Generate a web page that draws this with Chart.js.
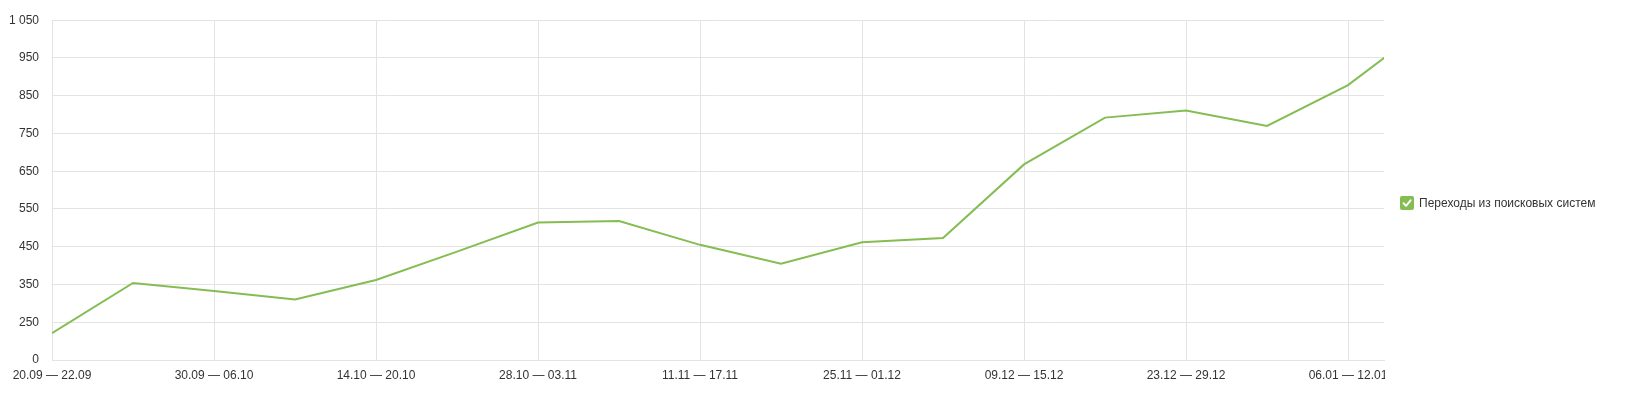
<!DOCTYPE html>
<html>
<head>
<meta charset="utf-8">
<script src="https://cdn.jsdelivr.net/npm/chart.js@4.4.1/dist/chart.umd.min.js"></script>
<style>
  html, body { margin: 0; padding: 0; background: #fff; }
  #wrap { width: 1626px; height: 409px; position: relative; }
</style>
</head>
<body>
<div id="wrap"><canvas id="c" width="1626" height="409"></canvas></div>
<script>
// ---- data ----
const categories = ['20.09 — 22.09','23.09 — 29.09','30.09 — 06.10','07.10 — 13.10','14.10 — 20.10','21.10 — 27.10','28.10 — 03.11','04.11 — 10.11','11.11 — 17.11','18.11 — 24.11','25.11 — 01.12','02.12 — 08.12','09.12 — 15.12','16.12 — 22.12','23.12 — 29.12','30.12 — 05.01','06.01 — 12.01','13.01 — 19.01'];
const values = [221, 354, 333, 310, 362, 437, 514, 518, 455, 405, 462, 473, 668, 792, 811, 770, 878, 1040];
const seriesLabel = 'Переходы из поисковых систем';
const xTickIndices = [0, 2, 4, 6, 8, 10, 12, 14, 16];
const yTickValues = [150, 250, 350, 450, 550, 650, 750, 850, 950, 1050];
const yTickLabels = ['0', '250', '350', '450', '550', '650', '750', '850', '950', '1 050'];

const GREEN = '#84bd52';
const GRID = '#e3e3e3';
const TEXT = '#333333';
const FONT = { family: 'Arial, "Liberation Sans", sans-serif', size: 12 };

const legendPlugin = {
  id: 'checkLegend',
  afterDraw(chart) {
    const ctx = chart.ctx;
    const area = chart.chartArea;
    ctx.save();
    // the reference view is cut off at the right edge of the plot
    ctx.fillStyle = '#fff';
    ctx.fillRect(area.right + 1, area.bottom + 1, 14, 40);
    const x = 1400, y = 196, s = 14, r = 2;
    ctx.fillStyle = GREEN;
    ctx.beginPath();
    ctx.moveTo(x + r, y);
    ctx.lineTo(x + s - r, y); ctx.quadraticCurveTo(x + s, y, x + s, y + r);
    ctx.lineTo(x + s, y + s - r); ctx.quadraticCurveTo(x + s, y + s, x + s - r, y + s);
    ctx.lineTo(x + r, y + s); ctx.quadraticCurveTo(x, y + s, x, y + s - r);
    ctx.lineTo(x, y + r); ctx.quadraticCurveTo(x, y, x + r, y);
    ctx.fill();
    ctx.strokeStyle = '#fff';
    ctx.lineWidth = 1.9;
    ctx.lineCap = 'round';
    ctx.lineJoin = 'round';
    ctx.beginPath();
    ctx.moveTo(x + 3.5, y + 7.2);
    ctx.lineTo(x + 6, y + 9.8);
    ctx.lineTo(x + 10.6, y + 4.3);
    ctx.stroke();
    ctx.fillStyle = TEXT;
    ctx.font = '12px Arial, "Liberation Sans", sans-serif';
    ctx.textBaseline = 'middle';
    ctx.textAlign = 'left';
    ctx.fillText(chart.data.datasets[0].label, 1419, y + s / 2 + 1);
    ctx.restore();
  }
};

new Chart(document.getElementById('c'), {
  type: 'line',
  data: {
    datasets: [{
      label: seriesLabel,
      data: values.map((v, i) => ({ x: i, y: v })),
      borderColor: GREEN,
      backgroundColor: GREEN,
      borderWidth: 2,
      pointRadius: 0,
      tension: 0,
      fill: false
    }]
  },
  options: {
    responsive: false,
    animation: false,
    layout: { padding: { top: 19, right: 242, bottom: 0, left: 0 } },
    plugins: { legend: { display: false }, tooltip: { enabled: false } },
    scales: {
      x: {
        type: 'linear',
        min: 0,
        max: 16.444,
        afterBuildTicks: (s) => { s.ticks = xTickIndices.map(v => ({ value: v })); },
        afterFit: (s) => { s.height = 49; },
        ticks: {
          autoSkip: false,
          maxRotation: 0,
          padding: 8,
          color: TEXT,
          font: FONT,
          callback: (v) => categories[v] || ''
        },
        grid: { color: GRID, drawTicks: false, lineWidth: 1 },
        border: { color: GRID }
      },
      y: {
        min: 150,
        max: 1050,
        afterBuildTicks: (s) => { s.ticks = yTickValues.map(v => ({ value: v })); },
        afterFit: (s) => { s.width = 52; },
        ticks: {
          padding: 13,
          color: TEXT,
          font: FONT,
          callback: (v) => yTickLabels[yTickValues.indexOf(v)]
        },
        grid: { color: GRID, drawTicks: false, lineWidth: 1 },
        border: { color: GRID }
      }
    }
  },
  plugins: [legendPlugin]
});
</script>
</body>
</html>
